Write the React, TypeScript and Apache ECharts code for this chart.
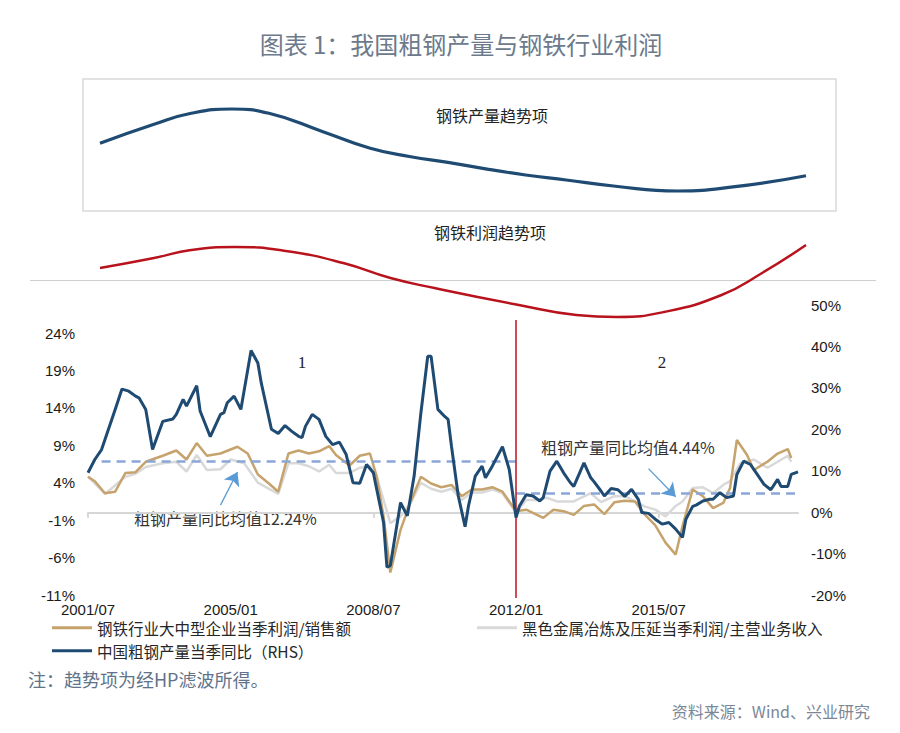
import React, { useEffect, useRef } from "react";
import * as echarts from "echarts";

// ---------- categories (monthly, 2001/07 .. 2018/12) ----------
const months: string[] = [];
for (let i = 0; i < 210; i++) {
  const t = 6 + i;
  const y = 2001 + Math.floor(t / 12);
  const m = (t % 12) + 1;
  months.push(`${y}/${String(m).padStart(2, "0")}`);
}
const SPLIT_MONTH = "2012/01";

// ---------- tick labels ----------
const leftTicks = [-11, -6, -1, 4, 9, 14, 19, 24];

// ---------- series names ----------
const GOLD_NAME = "钢铁行业大中型企业当季利润/销售额";
const GRAY_NAME = "黑色金属冶炼及压延当季利润/主营业务收入";
const BLUE_NAME = "中国粗钢产量当季同比（RHS）";

// ---------- values: [month index, value %] ----------
const crudeSteelYoY: [number, number][] = [
  [0, 9.5], [2, 12.7], [4, 15.1], [8, 24.8], [10, 29.7], [12, 29.2], [14, 28.0], [15, 27.6],
  [17, 24.8], [19, 15.1], [22, 21.9], [25, 22.5], [26, 23.6], [28, 27.2], [29, 25.6], [32, 30.5],
  [33, 24.4], [36, 18.2], [39, 23.6], [40, 24.0], [41, 26.4], [43, 28.0], [45, 24.8], [48, 39.0],
  [50, 36.0], [51, 31.2], [54, 20.0], [56, 19.0], [58, 20.9], [60, 19.5], [62, 18.3], [63, 18.0],
  [64, 20.7], [66, 23.6], [68, 22.4], [70, 18.3], [72, 16.3], [74, 16.9], [76, 13.9], [78, 7.1],
  [80, 7.0], [82, 11.5], [84, 9.5], [85, 5.5], [87, -2.5], [88, -13.3], [89, -12.9], [92, 2.3],
  [94, -0.9], [96, 8.7], [98, 24.0], [100, 37.6], [101, 37.6], [103, 24.8], [105, 23.1], [106, 22.4],
  [107, 15.9], [109, 3.9], [111, -3.5], [112, 1.5], [114, 8.7], [116, 11.1], [117, 8.3], [119, 11.1],
  [122, 15.8], [124, 10.3], [126, -1.3], [127, 1.5], [129, 4.2], [131, 3.9], [133, 2.7], [134, 3.5],
  [136, 9.9], [138, 12.3], [140, 9.5], [142, 7.1], [143, 6.2], [146, 11.9], [148, 8.3], [149, 7.3],
  [151, 5.1], [152, 3.9], [154, 5.7], [156, 5.4], [158, 3.8], [160, 5.5], [162, 3.1], [163, -0.1],
  [165, -0.3], [167, -1.7], [169, -2.9], [171, -2.5], [173, -4.1], [175, -6.1], [176, -1.7], [178, 1.4],
  [179, 1.7], [181, 2.7], [183, 3.1], [184, 3.1], [186, 4.7], [188, 3.5], [190, 3.9], [191, 9.1],
  [193, 12.3], [195, 11.5], [197, 9.1], [199, 6.7], [201, 5.4], [203, 7.9], [204, 6.2], [206, 6.2],
  [207, 9.1], [209, 9.7],
];

const largeFirmMargin: [number, number][] = [
  [0, 4.8], [2, 4.2], [5, 2.6], [8, 2.8], [11, 5.3], [14, 5.4], [17, 6.8], [22, 7.6], [26, 8.3],
  [29, 7.1], [32, 9.3], [35, 7.6], [39, 7.9], [44, 8.8], [47, 7.9], [50, 5.1], [53, 4.0], [56, 2.8],
  [59, 7.9], [62, 8.3], [65, 7.9], [68, 8.2], [71, 8.9], [73, 7.7], [77, 6.3], [80, 7.6], [83, 7.9],
  [85, 4.8], [87, -0.5], [89, -8.0], [92, -2.3], [95, 1.5], [98, 4.8], [101, 3.9], [104, 3.4],
  [107, 3.7], [110, 2.2], [113, 3.1], [116, 3.1], [119, 3.4], [122, 2.8], [126, 0.2], [129, 0.4],
  [134, -0.7], [137, 0.4], [140, 0.2], [143, -0.3], [146, 0.9], [149, 1.1], [152, -0.2], [155, 1.4],
  [158, 1.6], [161, 1.5], [164, -0.3], [167, -1.7], [170, -4.0], [173, -5.6], [175, -1.8], [178, 3.1],
  [181, 2.2], [184, 0.6], [187, 1.3], [189, 3.3], [191, 9.7], [194, 7.7], [196, 5.7], [200, 6.8],
  [203, 7.9], [206, 8.5], [207, 7.3],
];

const ferrousMargin: [number, number][] = [
  [0, 4.8], [5, 2.5], [11, 4.8], [14, 5.2], [17, 6.1], [22, 6.6], [26, 6.8], [29, 5.5], [32, 7.7],
  [35, 5.7], [39, 5.8], [42, 7.1], [46, 6.6], [50, 4.0], [56, 2.5], [59, 6.6], [62, 6.6], [65, 6.2],
  [68, 5.5], [71, 6.4], [73, 5.3], [77, 5.3], [80, 6.0], [83, 6.2], [85, 4.8], [89, -1.4], [92, -0.5],
  [95, 1.3], [98, 4.0], [101, 3.2], [104, 2.8], [107, 3.2], [110, 1.7], [113, 2.7], [116, 2.7],
  [119, 3.1], [122, 2.6], [126, 0.0], [129, 1.7], [132, 1.7], [135, 2.0], [138, 1.5], [143, 1.5],
  [148, 2.6], [151, 1.4], [155, 2.2], [158, 2.2], [161, 1.5], [164, 0.8], [167, 0.4], [170, -0.5],
  [173, 0.9], [175, 1.5], [178, 3.3], [181, 3.4], [184, 2.6], [187, 3.7], [189, 4.2], [192, 6.6],
  [196, 7.1], [200, 6.0], [203, 6.8], [206, 7.6], [207, 6.8],
];

// HP-filter trend terms (arbitrary units, no axis shown)
const outputTrend: [number, number][] = [
  [0, 176.7], [16, 195.7], [27, 206.7], [39, 211], [50, 206.7], [66, 188.3], [80, 171.7],
  [92, 163.3], [103, 157.7], [115, 150.7], [126, 145], [138, 140], [152, 134], [171, 129],
  [188, 133.3], [209, 144.3],
];
const profitTrend: [number, number][] = [
  [0, 52], [16, 62], [27, 70], [40, 73], [55, 69], [72, 57], [86, 42], [99, 32], [124, 15],
  [141, 5], [153, 3], [167, 8], [184, 25], [196, 47], [209, 75],
];

// mean lines of crude steel YoY
const MEAN_PERIOD1 = 12.24;
const MEAN_PERIOD2 = 4.44;

// ---------- styles ----------
const CJK = "'Noto Sans CJK SC', 'Noto Sans', sans-serif";
const AXIS_FONT = "'Liberation Sans Narrow', 'Arial Narrow', 'Liberation Sans', Arial, sans-serif";
const BLUE = "#1f4b73";
const GOLD = "#c6a36d";
const GRAY = "#d9d9d9";
const DASH = "#8aa6d8";
const ARROW = "#5b9bd5";
const RED = "#b8131c";

const axisLabelStyle = { fontSize: 15, color: "#1a1a1a", fontFamily: AXIS_FONT };
const legendText = { fontSize: 15.5, color: "#262626", fontFamily: CJK };

function buildOption() {
  return {
    animation: false,
    backgroundColor: "#ffffff",
    grid: [
      { left: 88, right: 102, top: 333, bottom: 138 },
      { left: 88, right: 102, top: 305, bottom: 138 },
      { left: 100, right: 94, top: 100, bottom: 413 },
      { left: 88, right: 102, top: 320, bottom: 135 },
    ],
    xAxis: [
      {
        gridIndex: 0, type: "category", data: months, boundaryGap: false,
        axisLine: { onZero: true, lineStyle: { color: "#d6d6d6", width: 2 } },
        axisTick: { show: true, interval: 83, length: 5, lineStyle: { color: "#d6d6d6", width: 2 } },
        axisLabel: { show: false }, splitLine: { show: false },
      },
      {
        gridIndex: 1, type: "category", data: months, boundaryGap: false,
        axisLine: { show: false, onZero: false }, axisTick: { show: false },
        axisLabel: { interval: 41, margin: 7, ...axisLabelStyle }, splitLine: { show: false },
      },
      { gridIndex: 2, type: "category", data: months, boundaryGap: false, show: false },
      { gridIndex: 3, type: "category", data: months, boundaryGap: false, show: false },
    ],
    yAxis: [
      {
        gridIndex: 0, type: "value", min: -11, max: 24,
        axisLine: { show: false }, axisTick: { show: false }, splitLine: { show: false },
        axisLabel: { customValues: leftTicks, formatter: "{value}%", margin: 13, ...axisLabelStyle },
      },
      {
        gridIndex: 1, type: "value", position: "right", min: -20, max: 50, interval: 10,
        axisLine: { show: false }, axisTick: { show: false }, splitLine: { show: false },
        axisLabel: { formatter: "{value}%", margin: 13, ...axisLabelStyle },
      },
      { gridIndex: 2, type: "value", min: 0, max: 220, show: false },
      { gridIndex: 3, type: "value", min: 0, max: 1, show: false },
    ],
    legend: [
      { data: [GOLD_NAME], left: 52, top: 620, padding: 0, icon: "rect", itemWidth: 40, itemHeight: 3, selectedMode: false, textStyle: legendText },
      { data: [GRAY_NAME], left: 477, top: 620, padding: 0, icon: "rect", itemWidth: 40, itemHeight: 3, selectedMode: false, textStyle: legendText },
      { data: [BLUE_NAME], left: 52, top: 643, padding: 0, icon: "rect", itemWidth: 40, itemHeight: 3, selectedMode: false, textStyle: legendText },
    ],
    series: [
      {
        name: GRAY_NAME, type: "line", xAxisIndex: 0, yAxisIndex: 0, data: ferrousMargin,
        symbol: "none", lineStyle: { color: GRAY, width: 2.5 }, itemStyle: { color: GRAY }, z: 2,
      },
      {
        name: GOLD_NAME, type: "line", xAxisIndex: 0, yAxisIndex: 0, data: largeFirmMargin,
        symbol: "none", lineStyle: { color: GOLD, width: 2.5 }, itemStyle: { color: GOLD }, z: 3,
      },
      {
        name: BLUE_NAME, type: "line", xAxisIndex: 1, yAxisIndex: 1, data: crudeSteelYoY,
        symbol: "none", lineStyle: { color: BLUE, width: 3 }, itemStyle: { color: BLUE }, z: 5,
        markLine: {
          silent: true, symbol: "none", label: { show: false },
          lineStyle: { color: DASH, width: 2.5, type: [9, 6] },
          data: [
            [{ coord: [4, MEAN_PERIOD1] }, { coord: [126, MEAN_PERIOD1] }],
            [{ coord: [126, MEAN_PERIOD2] }, { coord: [209, MEAN_PERIOD2] }],
          ],
        },
      },
      {
        type: "line", xAxisIndex: 1, yAxisIndex: 1, data: [], symbol: "none", z: 6,
        markLine: {
          silent: true, symbol: ["none", "arrow"], symbolSize: 13, label: { show: false },
          lineStyle: { color: ARROW, width: 1.3, type: "solid" }, itemStyle: { color: ARROW },
          data: [
            [{ coord: [39, 1.7] }, { coord: [44, 9.7] }],
            [{ coord: [165, 10.5] }, { coord: [173, 3.7] }],
          ],
        },
      },
      {
        type: "line", xAxisIndex: 2, yAxisIndex: 2, data: outputTrend, smooth: true,
        symbol: "none", lineStyle: { color: BLUE, width: 3.2 }, z: 4,
      },
      {
        type: "line", xAxisIndex: 2, yAxisIndex: 2, data: profitTrend, smooth: true,
        symbol: "none", lineStyle: { color: RED, width: 2.5 }, z: 4,
      },
      {
        type: "line", xAxisIndex: 3, yAxisIndex: 3, data: [], symbol: "none", z: 1,
        markLine: {
          silent: true, symbol: "none", label: { show: false },
          lineStyle: { color: RED, width: 1.5, type: "solid" },
          data: [{ xAxis: SPLIT_MONTH }],
        },
      },
    ],
    graphic: [
      { type: "text", x: 461, y: 43, style: { text: "图表 1：我国粗钢产量与钢铁行业利润", fontSize: 24, fontFamily: CJK, fill: "#6c7a8c", align: "center", verticalAlign: "middle" } },
      { type: "rect", shape: { x: 83, y: 79, width: 753, height: 132 }, style: { fill: "none", stroke: "#d9d9d9", lineWidth: 1.5 }, z: -1 },
      { type: "line", shape: { x1: 30, y1: 280.5, x2: 876, y2: 280.5 }, style: { stroke: "#cfcfcf", lineWidth: 1.2 }, z: -1 },
      { type: "text", x: 492, y: 115, style: { text: "钢铁产量趋势项", fontSize: 16, fontFamily: CJK, fill: "#222", align: "center", verticalAlign: "middle" } },
      { type: "text", x: 490, y: 232, style: { text: "钢铁利润趋势项", fontSize: 16, fontFamily: CJK, fill: "#222", align: "center", verticalAlign: "middle" } },
      { type: "text", x: 302, y: 362, style: { text: "1", fontSize: 17, fontFamily: "'Liberation Serif', serif", fill: "#222", align: "center", verticalAlign: "middle" } },
      { type: "text", x: 662, y: 362, style: { text: "2", fontSize: 17, fontFamily: "'Liberation Serif', serif", fill: "#222", align: "center", verticalAlign: "middle" } },
      { type: "text", x: 134, y: 518, style: { text: "粗钢产量同比均值12.24%", fontSize: 16, fontFamily: CJK, fill: "#333", align: "left", verticalAlign: "middle" } },
      { type: "text", x: 541, y: 447, style: { text: "粗钢产量同比均值4.44%", fontSize: 16, fontFamily: CJK, fill: "#333", align: "left", verticalAlign: "middle" } },
      { type: "text", x: 28, y: 679, style: { text: "注：趋势项为经HP滤波所得。", fontSize: 18, fontFamily: CJK, fill: "#61738a", align: "left", verticalAlign: "middle" } },
      { type: "text", x: 870, y: 711, style: { text: "资料来源：Wind、兴业研究", fontSize: 16, fontFamily: CJK, fill: "#7b8796", align: "right", verticalAlign: "middle" } },
    ],
  };
}

export default function App() {
  const ref = useRef<HTMLDivElement>(null);
  useEffect(() => {
    if (!ref.current) return;
    const chart = echarts.init(ref.current, undefined, { renderer: "svg" });
    chart.setOption(buildOption() as any);
    return () => chart.dispose();
  }, []);
  return (
    <div
      ref={ref}
      style={{ position: "absolute", left: 0, top: 0, width: 900, height: 733, background: "#fff" }}
    />
  );
}
